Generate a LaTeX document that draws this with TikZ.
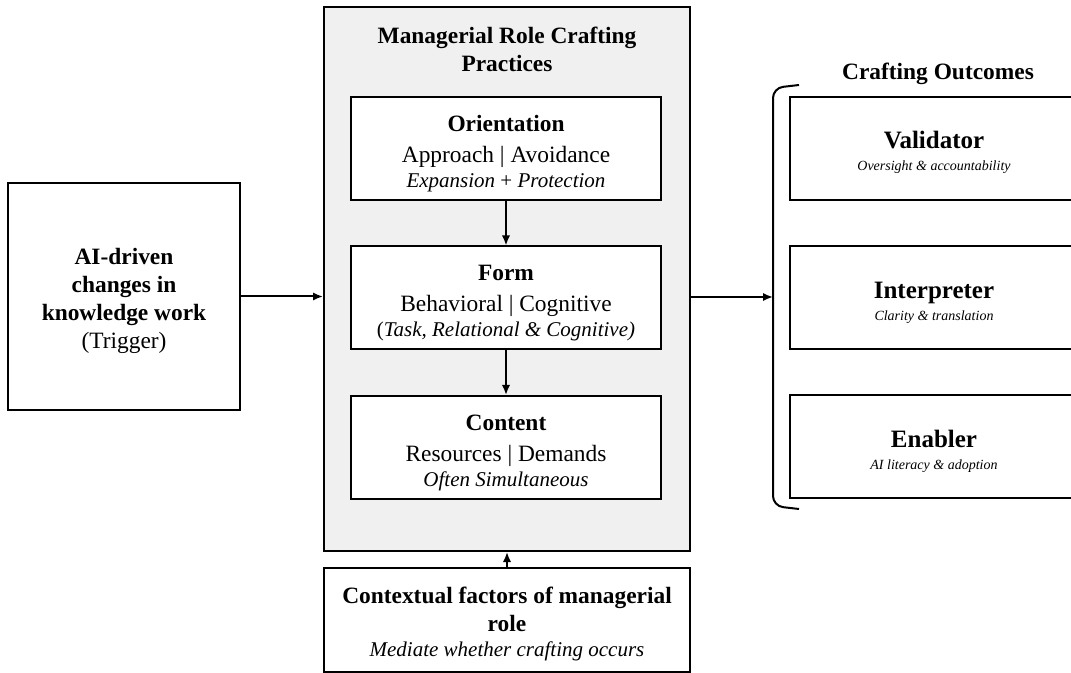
\documentclass[tikz,border=0pt]{standalone}
\usepackage{fontspec}
\setmainfont{Liberation Serif}
\usetikzlibrary{positioning,arrows.meta}
\newcommand{\tstrut}{\rule{0pt}{13pt}}

\begin{document}
\begin{tikzpicture}[
    x=0.5pt, y=-0.5pt,
    box/.style={draw, line width=1pt, fill=white, inner sep=0pt, align=center,
        minimum width=155pt, minimum height=51.5pt, font=\fontsize{11.7}{14}\selectfont},
    outbox/.style={box, minimum width=144pt, font=\fontsize{12.5}{11}\selectfont},
    arrow/.style={-{Latex[length=5pt,width=4.2pt]}, line width=1pt},
]
\clip (0,0) rectangle (1071,673);
\useasboundingbox (0,0) rectangle (1071,673);

% Trigger
\node[box, minimum width=116pt, minimum height=113.5pt] (trig) at (124,296.5)
    {\tstrut\textbf{AI-driven}\\\textbf{changes in}\\\textbf{knowledge work}\\(Trigger)};

% Practices
\node[box, fill=black!6, minimum width=183pt, minimum height=272pt] (mrcp) at (507,279) {};
\node[font=\bfseries\fontsize{11.7}{14}\selectfont, align=center] (mrcptitle) at (507,49)
    {Managerial Role Crafting\\Practices};

\node[box] (orient) at (506,148.5)
    {\tstrut\textbf{Orientation}\\[1.5pt] Approach | Avoidance\\[-1.5pt]
     {\itshape\fontsize{10.5}{12.5}\selectfont Expansion \upshape+\itshape{} Protection}};
\node[box] (form) at (506,298)
    {\tstrut\textbf{Form}\\[1.5pt] Behavioral | Cognitive\\[-1.5pt]
     {\fontsize{10.5}{12.5}\selectfont(\textit{Task, Relational \& Cognitive)}}};
\node[box] (content) at (506,447.5)
    {\tstrut\textbf{Content}\\[1.5pt] Resources | Demands\\[-1.5pt]
     {\itshape\fontsize{10.5}{12.5}\selectfont Often Simultaneous}};

% Context
\node[box, minimum width=183pt, minimum height=52pt] (ctx) at (507,620)
    {\rule{0pt}{12pt}\textbf{Contextual factors of managerial}\\\textbf{role}\\[-1.5pt]
     {\itshape\fontsize{10.5}{12.5}\selectfont Mediate whether crafting occurs}};

% Outcomes
\node[font=\bfseries\fontsize{11.7}{14}\selectfont] (outtitle) at (938,74) {Crafting Outcomes};
\node[outbox] (valid) at (934,148.5)
    {\tstrut\textbf{Validator}\\{\itshape\fontsize{7}{9}\selectfont Oversight \& accountability}};
\node[outbox] (interp) at (934,298)
    {\tstrut\textbf{Interpreter}\\{\itshape\fontsize{7}{9}\selectfont Clarity \& translation}};
\node[outbox] (enabler) at (934,447)
    {\tstrut\textbf{Enabler}\\{\itshape\fontsize{7}{9}\selectfont AI literacy \& adoption}};

% Bracket
\coordinate (brtop) at (799,85);
\coordinate (brbot) at (799,509);
\coordinate (brc) at (773,297);
\draw[line width=1pt, rounded corners=5pt] (brtop) -- (773,88) -- (773,506) -- (brbot);

% Arrows
\draw[arrow] (trig.east) -- (trig.east -| mrcp.west);
\draw[arrow] (orient) -- (form);
\draw[arrow] (form) -- (content);
\draw[arrow] (ctx.north) -- (ctx.north |- mrcp.south);
\draw[arrow] (mrcp.east |- brc) -- (brc);
\end{tikzpicture}
\end{document}
